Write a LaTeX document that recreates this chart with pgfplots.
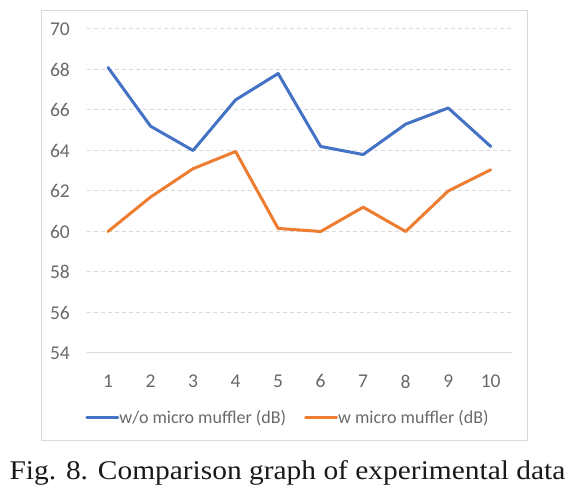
\documentclass[border=0pt]{standalone}
\usepackage{pgfplots}
\pgfplotsset{compat=1.18}
\usepackage{fontspec}
\setmainfont{Carlito}
\newfontfamily\capfont{Liberation Serif}
\definecolor{xlblue}{RGB}{68,114,196}
\definecolor{xlorange}{RGB}{237,125,49}
\definecolor{xlgrid}{RGB}{217,217,217}
\definecolor{xltext}{RGB}{105,105,105}
\begin{document}
\begin{tikzpicture}[x=1pt,y=1pt]
\useasboundingbox (0,0) rectangle (579,489);
\draw[xlgrid, line width=1pt] (41,48) rectangle (527,478);
\begin{axis}[
  at={(86.75pt,136pt)}, anchor=south west,
  scale only axis, width=425.25pt, height=324pt,
  xmin=0.5, xmax=10.5, ymin=54, ymax=70,
  xtick={1,...,10}, ytick={54,56,...,70},
  separate axis lines,
  axis x line*=bottom, axis y line*=left,
  x axis line style={xlgrid, line width=1pt, -},
  y axis line style={draw=none, -},
  major tick length=0pt,
  ymajorgrids,
  grid style={xlgrid, line width=1pt, dash pattern=on 4pt off 3pt},
  /pgf/number format/assume math mode=true,
  tick label style={font=\fontsize{19.5}{19.5}\selectfont, text=xltext, inner sep=0pt},
  xticklabel style={anchor=north, yshift=-21.5pt},
  yticklabel style={anchor=east, xshift=-16.75pt},
  legend columns=2,
  legend image code/.code={\draw[#1, line width=3pt] (0pt,0pt) -- (31pt,0pt);},
  legend style={at={(0.4709,-0.2006)}, anchor=center, draw=none, fill=none,
    font=\fontsize{18}{18}\selectfont, text=xltext, inner sep=0pt,
    column sep=0pt, nodes={inner sep=0pt},
    /tikz/every even column/.append style={column sep=18pt}},
]
\addplot[xlblue, line width=3pt, line join=round, line cap=round] coordinates {
  (1,68.1) (2,65.2) (3,64.0) (4,66.5) (5,67.8) (6,64.2) (7,63.8) (8,65.3) (9,66.1) (10,64.2)};
\addlegendentry{w/o micro muffler (dB)}
\addplot[xlorange, line width=3pt, line join=round, line cap=round] coordinates {
  (1,60.0) (2,61.7) (3,63.1) (4,63.95) (5,60.15) (6,60.0) (7,61.2) (8,60.0) (9,62.0) (10,63.05)};
\addlegendentry{w micro muffler (dB)}
\end{axis}
\node[anchor=base, inner sep=0pt, xscale=1.09, text={rgb,255:red,25;green,25;blue,25}, font=\capfont\fontsize{27}{27}\selectfont] at (287.5,9) {Fig. 8. Comparison graph of experimental data};
\end{tikzpicture}
\end{document}
